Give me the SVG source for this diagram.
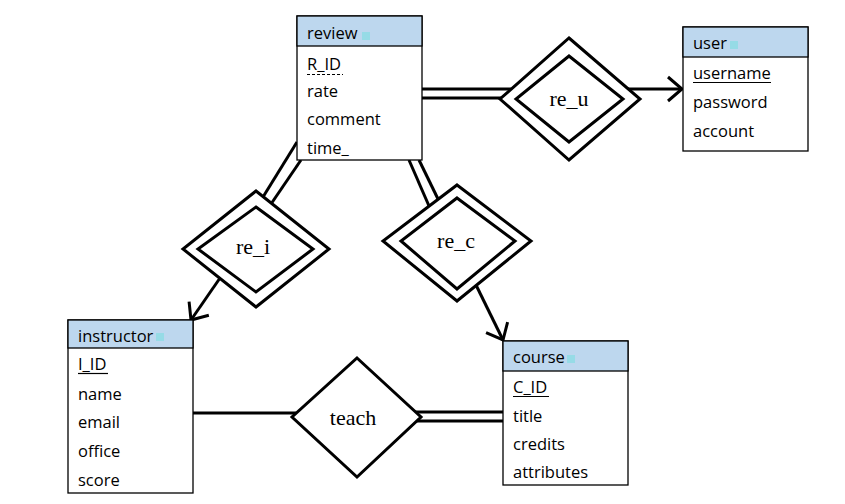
<svg xmlns="http://www.w3.org/2000/svg" width="845" height="504" viewBox="0 0 845 504">
<style>
.box{fill:#fff;stroke:#000;stroke-width:1.3}
.hdr{fill:#bdd7ee;stroke:#000;stroke-width:1.3}
.sq{fill:#96dbe6}
.t{font-family:"Open Sans","Liberation Sans",sans-serif;font-size:16.5px;fill:#000}
.rel{font-family:"Liberation Serif","Times New Roman",serif;font-size:22px;fill:#000;text-anchor:middle}
.dia{fill:#fff;stroke:#000;stroke-width:3;stroke-linejoin:miter}
.ln{fill:none;stroke:#000;stroke-width:3}
.ul{stroke:#000;stroke-width:1.2}
</style>
<defs>
<marker id="arr" markerUnits="userSpaceOnUse" orient="auto" refX="0" refY="0" markerWidth="30" markerHeight="30" viewBox="-20 -15 22 30" overflow="visible">
<path d="M-14,-12 L0,0 L-14,12" fill="none" stroke="#000" stroke-width="3"/>
</marker>
</defs>
<rect width="845" height="504" fill="#fff"/>

<g id="connectors">
<line class="ln" x1="422" y1="89" x2="511" y2="89"/>
<line class="ln" x1="422" y1="98" x2="501" y2="98"/>
<line class="ln" x1="628" y1="89" x2="682" y2="89" marker-end="url(#arr)"/>
<line class="ln" x1="297" y1="142" x2="263" y2="197"/>
<line class="ln" x1="301" y1="160" x2="271" y2="204"/>
<line class="ln" x1="409" y1="160" x2="429" y2="206"/>
<line class="ln" x1="419" y1="160" x2="438" y2="199"/>
<line class="ln" x1="220" y1="278" x2="191" y2="320" marker-end="url(#arr)"/>
<line class="ln" x1="476" y1="285" x2="503" y2="340" marker-end="url(#arr)"/>
<line class="ln" x1="193" y1="413" x2="296" y2="413"/>
<line class="ln" x1="415" y1="412" x2="503" y2="412"/>
<line class="ln" x1="416" y1="421" x2="503" y2="421"/>
</g>

<g id="review">
<rect class="box" x="297" y="16" width="125" height="144"/>
<rect class="hdr" x="297" y="16" width="125" height="30"/>
<rect class="sq" x="362" y="32" width="8" height="8"/>
<text class="t" x="307" y="39">review</text>
<text class="t" x="307" y="70">R_ID</text>
<line class="ul" x1="307" y1="74.5" x2="343" y2="74.5" stroke-dasharray="3,2"/>
<text class="t" x="307" y="97">rate</text>
<text class="t" x="307" y="125">comment</text>
<text class="t" x="307" y="154">time_</text>
</g>

<g id="user">
<rect class="box" x="683" y="27" width="125" height="124"/>
<rect class="hdr" x="683" y="27" width="125" height="30"/>
<rect class="sq" x="730" y="41" width="8" height="8"/>
<text class="t" x="693" y="49">user</text>
<text class="t" x="693" y="79">username</text>
<line class="ul" x1="693" y1="82.5" x2="771" y2="82.5"/>
<text class="t" x="693" y="108">password</text>
<text class="t" x="693" y="137">account</text>
</g>

<g id="instructor">
<rect class="box" x="68" y="320" width="125" height="173"/>
<rect class="hdr" x="68" y="320" width="125" height="28"/>
<rect class="sq" x="156" y="333" width="8" height="8"/>
<text class="t" x="78" y="342">instructor</text>
<text class="t" x="78" y="370">I_ID</text>
<line class="ul" x1="78" y1="373.5" x2="108" y2="373.5"/>
<text class="t" x="78" y="400">name</text>
<text class="t" x="78" y="428">email</text>
<text class="t" x="78" y="457">office</text>
<text class="t" x="78" y="486">score</text>
</g>

<g id="course">
<rect class="box" x="503" y="341" width="125" height="144"/>
<rect class="hdr" x="503" y="341" width="125" height="30"/>
<rect class="sq" x="567" y="355" width="8" height="8"/>
<text class="t" x="513" y="363">course</text>
<text class="t" x="513" y="393">C_ID</text>
<line class="ul" x1="513" y1="396.5" x2="549" y2="396.5"/>
<text class="t" x="513" y="422">title</text>
<text class="t" x="513" y="450">credits</text>
<text class="t" x="513" y="478">attributes</text>
</g>

<g id="re_u">
<polygon class="dia" points="569,38 640,99 569,160 500,99"/>
<polygon class="dia" points="569,56 623,99 569,142 516,99"/>
<text class="rel" x="569" y="106">re_u</text>
</g>

<g id="re_i">
<polygon class="dia" points="256,191 329,249 256,307 183,249"/>
<polygon class="dia" points="256,207 313,249 256,292 198,249"/>
<text class="rel" x="253" y="254">re_i</text>
</g>

<g id="re_c">
<polygon class="dia" points="457,185 531,241 457,301 383,241"/>
<polygon class="dia" points="457,198 515,241 457,289 401,241"/>
<text class="rel" x="456" y="248">re_c</text>
</g>

<g id="teach">
<polygon class="dia" points="357,358 421,417 357,477 292,417"/>
<text class="rel" x="353" y="425">teach</text>
</g>
</svg>
